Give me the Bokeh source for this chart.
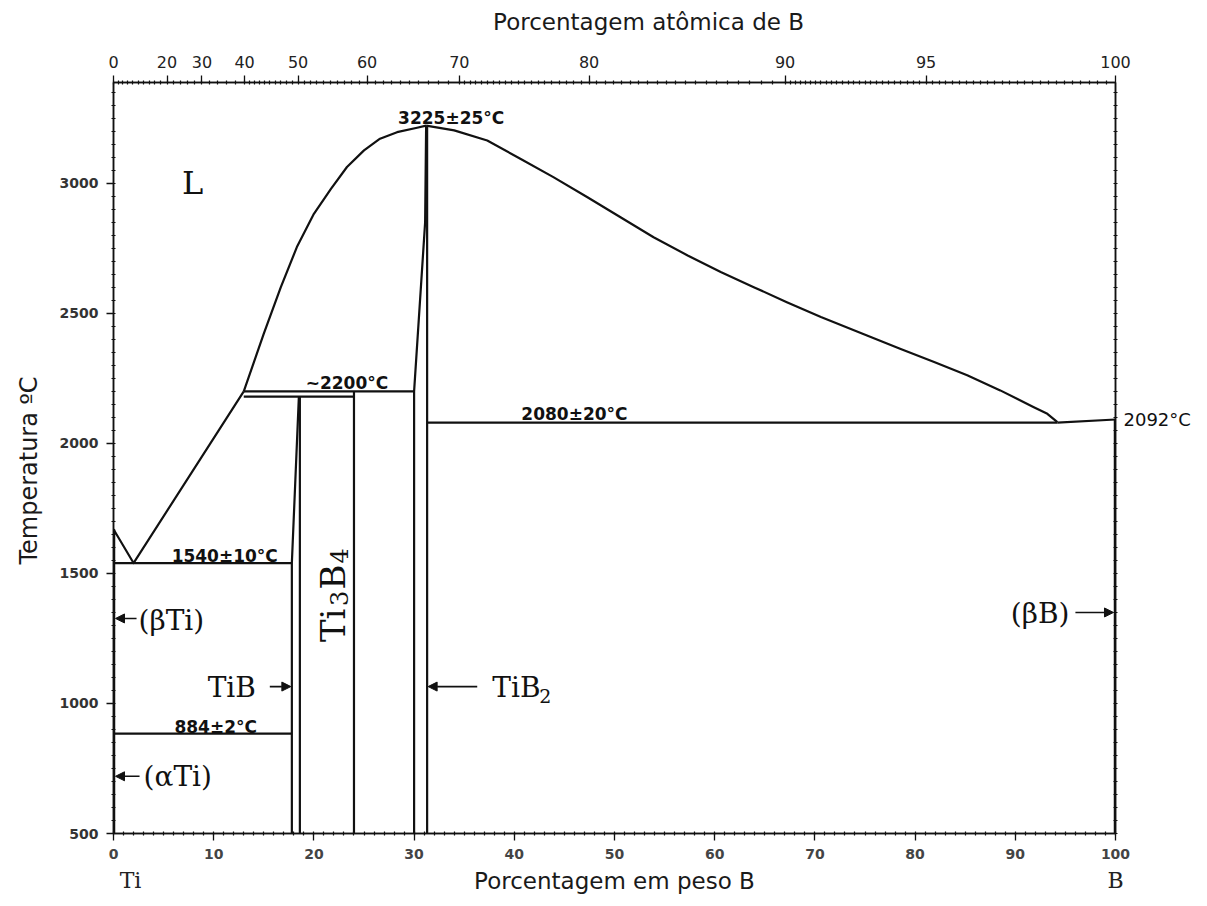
import math
from bokeh.plotting import figure
from bokeh.models import LinearAxis, FixedTicker, Range1d, Arrow, NormalHead
from bokeh.embed import file_html
from bokeh.resources import INLINE
from bokeh.core.properties import value

# ---------------- data (weight % B, temperature in °C) ----------------
ti_liq_wt = [0.0, 2.0, 13.0]
ti_liq_T = [1670, 1540, 2200]

dome_left_wt = [13.0, 15.0, 16.7, 18.3, 20.0, 21.7, 23.3, 25.0, 26.6, 28.3, 30.3, 31.2]
dome_left_T = [2200, 2422, 2601, 2755, 2883, 2979, 3063, 3127, 3172, 3197, 3214, 3222]

dome_right_wt = [31.2, 34.0, 37.3, 40.6, 43.9, 47.3, 50.6, 53.9, 57.3, 60.6, 63.9,
                 67.2, 70.6, 75.2, 78.5, 81.9, 85.2, 88.5, 91.8, 93.2, 94.2]
dome_right_T = [3222, 3204, 3165, 3095, 3024, 2947, 2870, 2793, 2723, 2659, 2601,
                2543, 2486, 2415, 2364, 2313, 2262, 2204, 2140, 2114, 2082]

b_liq_wt = [94.2, 100.0]
b_liq_T = [2080, 2092]

iso_T = [2200, 2180, 2080, 1540, 884]
iso_wt_start = [13.0, 13.0, 31.3, 0.0, 0.0]
iso_wt_end = [30.0, 24.0, 94.2, 17.8, 17.8]

tib_left_wt = [17.8, 17.8, 18.5]
tib_left_T = [500, 1540, 2180]
tib_right_wt = [18.6, 18.6]
tib_right_T = [500, 2180]
ti3b4_wt = [24.0, 24.0]
ti3b4_T = [500, 2200]
tib2_left_wt = [30.0, 30.0, 31.1, 31.2]
tib2_left_T = [500, 2200, 2850, 3222]
tib2_right_wt = [31.3, 31.3]
tib2_right_T = [500, 3222]
ti_edge_wt = [0.0, 0.0]
ti_edge_T = [500, 1670]
b_edge_wt = [100.0, 100.0]
b_edge_T = [500, 2092]

temp_labels = ["3225±25°C", "~2200°C", "2080±20°C", "1540±10°C", "884±2°C"]
temp_label_wt = [33.7, 23.3, 46.0, 11.1, 10.2]
temp_label_T = [3252, 2232, 2115, 1567, 908]
b_melting_T = 2092
b_melting_label = "2092°C"

arrow_wt_start = [2.3, 2.6, 15.6, 36.3, 96.0]
arrow_wt_end = [0.2, 0.2, 17.7, 31.4, 99.8]
arrow_T = [1327, 720, 1065, 1065, 1350]

bottom_ticks = [0, 10, 20, 30, 40, 50, 60, 70, 80, 90, 100]
left_ticks = [500, 1000, 1500, 2000, 2500, 3000]
top_atomic = [0, 20, 30, 40, 50, 60, 70, 80, 90, 95, 100]
top_labels = ["0", "20", "30", "40", "50", "60", "70", "80", "90", "95", "100"]
element_pos = [1.7, 100]
element_names = ["Ti", "B"]
top_title = "Porcentagem atômica de B"
top_title_pos = 53.4
left_title = "Temperatura ºC"
left_title_pos = 1896
bottom_title = "Porcentagem em peso B"

M_TI = 47.867
M_B = 10.811


def at_to_wt(a):
    return round(100.0 * a * M_B / (a * M_B + (100.0 - a) * M_TI), 4)


def frange(a, b, step):
    n = int(round((b - a) / step))
    return [round(a + i * step, 4) for i in range(n)]


# ---------------- figure ----------------
INK = "#111111"
p = figure(width=1207, height=906, output_backend="svg", toolbar_location=None,
           x_range=Range1d(0, 100), y_range=Range1d(500, 3388),
           min_border_left=113, min_border_right=92, min_border_top=82,
           min_border_bottom=73, x_axis_location=None, y_axis_location=None)
p.grid.visible = False
p.outline_line_color = INK
p.outline_line_width = 1.5
p.background_fill_color = "white"
p.border_fill_color = "white"

tick_font = "DejaVu Sans"
TITLE_FONT = "DejaVu Sans"
SERIF = "DejaVu Serif"
temp_minor = list(range(500, 3400, 50))

# bottom axis (weight %)
xb = LinearAxis(ticker=FixedTicker(ticks=bottom_ticks, minor_ticks=list(range(0, 101))))
# element names + title row
xb2 = LinearAxis(ticker=FixedTicker(ticks=element_pos), axis_label=bottom_title)
xb2.major_label_overrides = {pos: name for pos, name in zip(element_pos, element_names)}
# left axis
yl = LinearAxis(ticker=FixedTicker(ticks=left_ticks, minor_ticks=temp_minor))
# left title row
yl2 = LinearAxis(ticker=FixedTicker(ticks=[left_title_pos]))
yl2.major_label_overrides = {left_title_pos: left_title}
yl2.major_label_orientation = "vertical"
# right axis (melting point of B)
yr = LinearAxis(ticker=FixedTicker(ticks=[b_melting_T], minor_ticks=temp_minor))
yr.major_label_overrides = {b_melting_T: b_melting_label}
# top axis (atomic %)
top_pos = [at_to_wt(a) for a in top_atomic]
top_minor_at = frange(0, 40, 2) + frange(40, 70, 1) + frange(70, 90, 0.5) + frange(90, 100.01, 0.2)
top_minor = [at_to_wt(a) for a in top_minor_at]
xt = LinearAxis(ticker=FixedTicker(ticks=top_pos, minor_ticks=top_minor))
xt.major_label_overrides = {pos: lab for pos, lab in zip(top_pos, top_labels)}
# top title row
xt2 = LinearAxis(ticker=FixedTicker(ticks=[top_title_pos]))
xt2.major_label_overrides = {top_title_pos: top_title}

for ax in (xb, yl, yr, xt, xb2, yl2, xt2):
    ax.axis_line_color = INK
    ax.axis_line_width = 1.5
    ax.major_tick_line_color = INK
    ax.major_tick_line_width = 1.3
    ax.major_tick_in = 0
    ax.major_tick_out = 7
    ax.minor_tick_line_color = INK
    ax.minor_tick_line_width = 1.2
    ax.minor_tick_in = 2
    ax.minor_tick_out = 2
    ax.major_label_standoff = 8
    ax.major_label_text_font = tick_font
    ax.axis_label_text_font = TITLE_FONT
    ax.axis_label_text_font_style = "normal"
    ax.axis_label_text_font_size = "23px"
    ax.axis_label_text_color = "#1a1a1a"

for ax in (xb2, yl2, xt2):
    ax.axis_line_color = None
    ax.major_tick_line_color = None
    ax.minor_tick_line_color = None
    ax.major_tick_out = 0

xb.major_label_text_font_size = "14px"
xb.major_label_text_font_style = "bold"
xb.major_label_text_color = "#444444"

xb2.major_label_standoff = 6
xb2.major_label_text_font = SERIF
xb2.major_label_text_font_size = "22px"
xb2.major_label_text_color = "#222222"
xb2.axis_label_standoff = -28

yl.major_label_text_font_size = "14px"
yl.major_label_text_font_style = "bold"
yl.major_label_text_color = "#333333"

yl2.major_label_standoff = 13
yl2.major_label_text_font = TITLE_FONT
yl2.major_label_text_font_size = "24px"
yl2.major_label_text_color = "#1a1a1a"

yr.major_tick_out = 0
yr.major_label_standoff = 6
yr.major_label_text_font_size = "18px"
yr.major_label_text_color = INK

xt.major_label_text_font_size = "16px"
xt.major_label_text_color = "#222222"

xt2.major_label_standoff = 18
xt2.major_label_text_font = TITLE_FONT
xt2.major_label_text_font_size = "23px"
xt2.major_label_text_color = "#1a1a1a"

p.add_layout(xb, "below")
p.add_layout(xb2, "below")
p.add_layout(yl, "left")
p.add_layout(yl2, "left")
p.add_layout(yr, "right")
p.add_layout(xt, "above")
p.add_layout(xt2, "above")

# ---------------- phase boundaries ----------------
LW = 2.2
curves = [
    (ti_liq_wt, ti_liq_T), (dome_left_wt, dome_left_T), (dome_right_wt, dome_right_T),
    (b_liq_wt, b_liq_T), (tib_left_wt, tib_left_T), (tib_right_wt, tib_right_T),
    (ti3b4_wt, ti3b4_T), (tib2_left_wt, tib2_left_T), (tib2_right_wt, tib2_right_T),
]
for xs, ys in curves:
    p.line(xs, ys, line_color=INK, line_width=LW, line_join="round")
for T, a, b in zip(iso_T, iso_wt_start, iso_wt_end):
    p.line([a, b], [T, T], line_color=INK, line_width=LW)
p.line(ti_edge_wt, ti_edge_T, line_color=INK, line_width=3.5)
p.line(b_edge_wt, b_edge_T, line_color=INK, line_width=3.5)

# ---------------- temperature annotations ----------------
p.text(x=temp_label_wt, y=temp_label_T, text=temp_labels,
       text_font=value("DejaVu Sans"), text_font_style="bold", text_font_size="17px",
       text_align="center", text_baseline="middle", text_color=INK)

# ---------------- phase labels ----------------
p.text(x=[7.9], y=[3000], text=["L"], text_font=value(SERIF), text_font_size="32px",
       text_align="center", text_baseline="middle", text_color=INK)
p.text(x=[2.5, 3.0], y=[1319, 719], text=["(βTi)", "(αTi)"],
       text_font=value(SERIF), text_font_size="28px",
       text_align="left", text_baseline="middle", text_color=INK)
p.text(x=[11.8], y=[1062], text=["TiB"],
       text_font=value(SERIF), text_font_size="28px",
       text_align="center", text_baseline="middle", text_color=INK)
p.text(x=[95.4], y=[1346], text=["(βB)"], text_font=value(SERIF), text_font_size="28px",
       text_align="right", text_baseline="middle", text_color=INK)
# TiB2 with a larger subscript
p.text(x=[37.8], y=[1062], text=["TiB"], text_font=value(SERIF), text_font_size="28px",
       text_align="left", text_baseline="middle", text_color=INK)
p.text(x=[42.5], y=[1030], text=["2"], text_font=value(SERIF), text_font_size="19px",
       text_align="left", text_baseline="middle", text_color=INK)
# Ti3B4 rotated, read bottom to top
p.text(x=[21.95, 22.55, 21.95, 22.55], y=[1236, 1375, 1438, 1538],
       text=["Ti", "3", "B", "4"], text_font=value(SERIF),
       text_font_size=["34px", "24px", "34px", "24px"],
       angle=math.pi / 2, text_align="left", text_baseline="middle", text_color=INK)

for xs, xe, T in zip(arrow_wt_start, arrow_wt_end, arrow_T):
    p.add_layout(Arrow(x_start=xs, y_start=T, x_end=xe, y_end=T, line_color=INK,
                       line_width=1.6,
                       end=NormalHead(size=9, fill_color=INK, line_color=INK)))

open("out.html", "w").write(file_html(p, INLINE))
